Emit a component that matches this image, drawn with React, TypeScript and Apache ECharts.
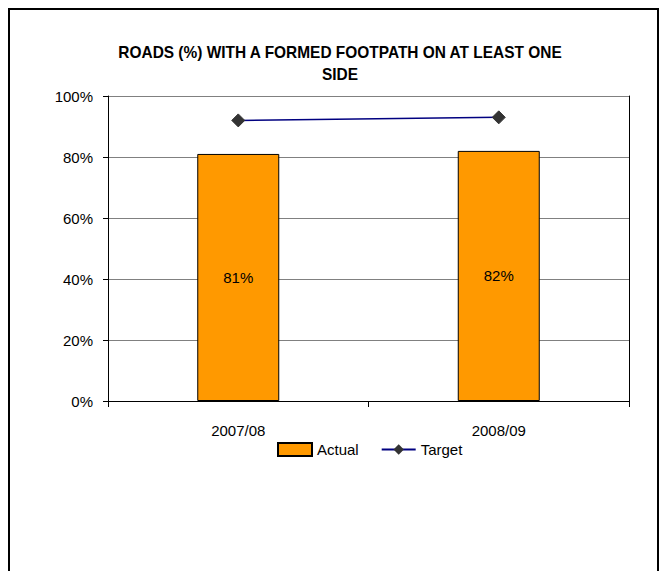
import React, { useEffect, useRef } from "react";
import * as echarts from "echarts";

const categories = ["2007/08", "2008/09"];
const actual = [81, 82];
const target = [92, 93];
const yTicks = [0, 20, 40, 60, 80, 100];
const titleText = "ROADS (%) WITH A FORMED FOOTPATH ON AT LEAST ONE\nSIDE";

const FONT = '"Liberation Sans", Arial, sans-serif';

export default function App() {
  const ref = useRef<HTMLDivElement>(null);
  useEffect(() => {
    if (!ref.current) return;
    const chart = echarts.init(ref.current, null, { renderer: "svg" });
    chart.setOption({
      animation: false,
      backgroundColor: "#fff",
      textStyle: { fontFamily: FONT },
      graphic: [
        {
          type: "text",
          x: 330,
          y: 31,
          scaleX: 0.965,
          style: {
            text: titleText,
            fill: "#000",
            font: `bold 16px ${FONT}`,
            textAlign: "center",
            lineHeight: 22,
          },
        },
      ],
      grid: {
        left: 98,
        top: 86,
        right: 28,
        bottom: 170,
      },
      legend: {
        left: 262,
        top: 427,
        itemGap: 22,
        itemWidth: 34,
        itemHeight: 13,
        textStyle: { fontSize: 15, color: "#000", fontFamily: FONT },
        data: [
          { name: "Actual", icon: "rect" },
          { name: "Target" },
        ],
      },
      xAxis: {
        type: "category",
        data: categories,
        axisLine: { lineStyle: { color: "#000", width: 1 } },
        axisTick: { show: true, length: 6, lineStyle: { color: "#000" } },
        axisLabel: { color: "#000", fontSize: 15, margin: 22, fontFamily: FONT },
        splitLine: { show: false },
      },
      yAxis: [
        {
          type: "value",
          min: 0,
          max: 100,
          interval: 20,
          axisLine: { show: true, lineStyle: { color: "#000", width: 1 } },
          axisTick: { show: true, length: 5, lineStyle: { color: "#000" } },
          axisLabel: {
            color: "#000",
            fontSize: 15,
            margin: 15,
            fontFamily: FONT,
            formatter: (v: number) => (yTicks.includes(v) ? `${v}%` : ""),
          },
          splitLine: { show: true, lineStyle: { color: "#808080", width: 1 } },
        },
        {
          type: "value",
          position: "right",
          min: 0,
          max: 100,
          interval: 20,
          axisLine: { show: true, lineStyle: { color: "#000", width: 1 } },
          axisTick: { show: false },
          axisLabel: { show: false },
          splitLine: { show: false },
        },
      ],
      series: [
        {
          name: "Actual",
          type: "bar",
          data: actual,
          barWidth: 82,
          itemStyle: { color: "#FF9900", borderColor: "#000", borderWidth: 1 },
          label: {
            show: true,
            position: "inside",
            formatter: "{c}%",
            color: "#000",
            fontSize: 15,
            fontFamily: FONT,
          },
        },
        {
          name: "Target",
          type: "line",
          data: target,
          symbol: "diamond",
          symbolSize: 13,
          lineStyle: { color: "#000080", width: 1.5 },
          itemStyle: { color: "#333333", borderColor: "#333333" },
          label: { show: false },
        },
      ],
    });
    return () => chart.dispose();
  }, []);
  return (
    <div
      ref={ref}
      style={{
        width: 651,
        height: 563,
        boxSizing: "border-box",
        border: "2px solid #000",
        borderBottom: "none",
      }}
    />
  );
}
